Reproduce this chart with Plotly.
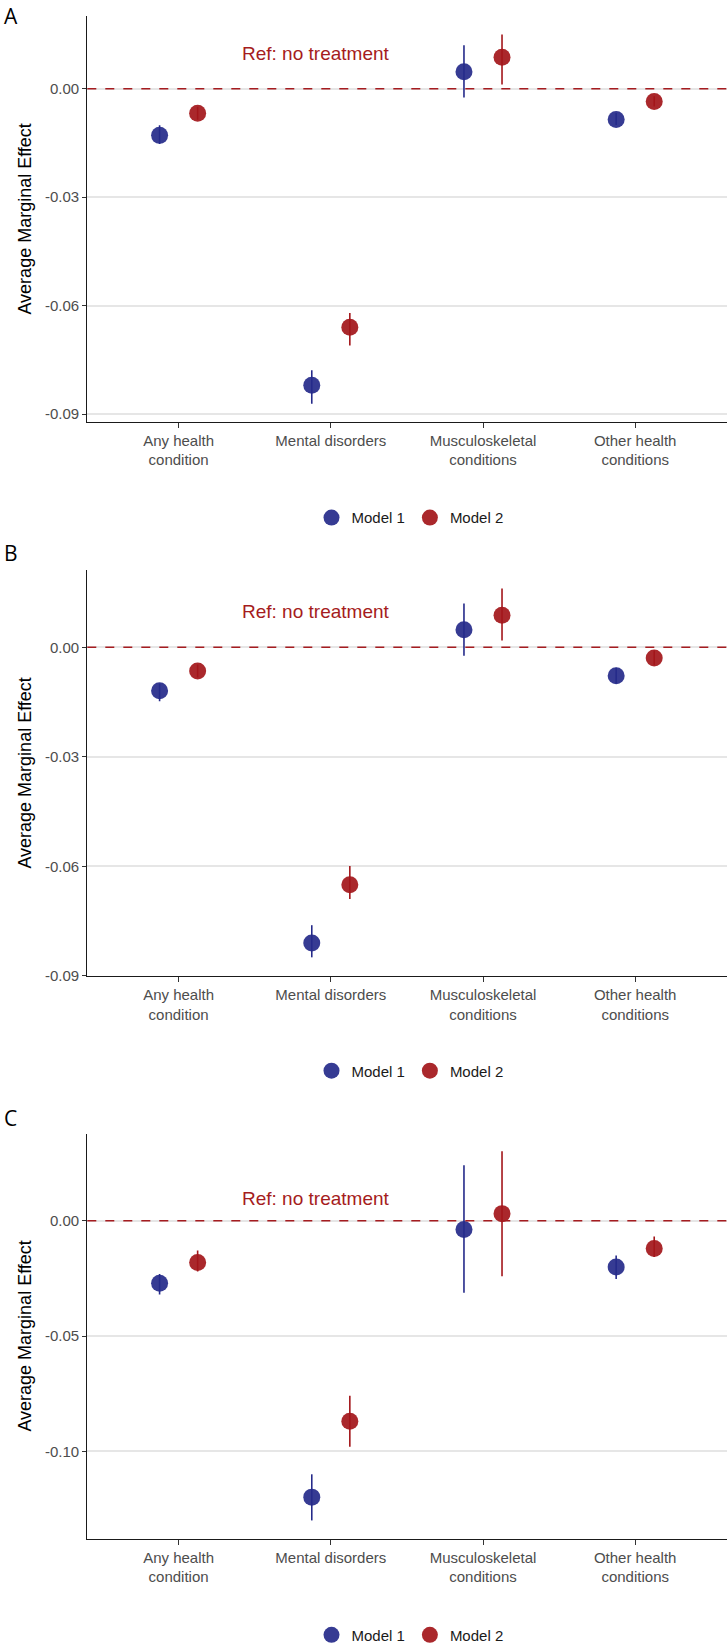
import plotly.graph_objects as go

# ---------------- data ----------------
categories = ["Any health<br>condition", "Mental disorders", "Musculoskeletal<br>conditions", "Other health<br>conditions"]
models = ["Model 1", "Model 2"]
panel_labels = ["A", "B", "C"]

# Panel A
a_m1 = [-0.0129, -0.0820, 0.0047, -0.0085]
a_m1_lo = [-0.0153, -0.0871, -0.0024, -0.0100]
a_m1_hi = [-0.0101, -0.0779, 0.0120, -0.0067]
a_m2 = [-0.0068, -0.0660, 0.0087, -0.0035]
a_m2_lo = [-0.0086, -0.0710, 0.0012, -0.0049]
a_m2_hi = [-0.0050, -0.0620, 0.0150, -0.0021]

# Panel B
b_m1 = [-0.0119, -0.0810, 0.0048, -0.0078]
b_m1_lo = [-0.0148, -0.0849, -0.0023, -0.0099]
b_m1_hi = [-0.0099, -0.0761, 0.0120, -0.0056]
b_m2 = [-0.0065, -0.0650, 0.0088, -0.0029]
b_m2_lo = [-0.0083, -0.0689, 0.0019, -0.0049]
b_m2_hi = [-0.0047, -0.0599, 0.0161, -0.0009]

# Panel C
c_m1 = [-0.0271, -0.1198, -0.0038, -0.0200]
c_m1_lo = [-0.0320, -0.1299, -0.0312, -0.0252]
c_m1_hi = [-0.0231, -0.1099, 0.0241, -0.0150]
c_m2 = [-0.0181, -0.0869, 0.0031, -0.0120]
c_m2_lo = [-0.0220, -0.0980, -0.0241, -0.0157]
c_m2_hi = [-0.0129, -0.0759, 0.0301, -0.0068]

y_ticks_a = [0.00, -0.03, -0.06, -0.09]
y_ticks_b = [0.00, -0.03, -0.06, -0.09]
y_ticks_c = [0.00, -0.05, -0.10]
y_ticktext_a = ["0.00", "-0.03", "-0.06", "-0.09"]
y_ticktext_b = ["0.00", "-0.03", "-0.06", "-0.09"]
y_ticktext_c = ["0.00", "-0.05", "-0.10"]
ref_label = "Ref: no treatment"
y_title = "Average Marginal Effect"

# ---------------- style ----------------
W, H = 728, 1652
BLUE = "#252A8A"
RED = "#A3161A"
REFRED = "#A51C20"
dodge = 0.125

panels = [
    dict(m=[(a_m1, a_m1_lo, a_m1_hi), (a_m2, a_m2_lo, a_m2_hi)], ticks=y_ticks_a, tt=y_ticktext_a,
         rng=[-0.0921, 0.0200], top=16.5, bot=423.5, leg_y=520, lab_top=0, ref_y=0.0097),
    dict(m=[(b_m1, b_m1_lo, b_m1_hi), (b_m2, b_m2_lo, b_m2_hi)], ticks=y_ticks_b, tt=y_ticktext_b,
         rng=[-0.0900, 0.0211], top=572.7, bot=980.1, leg_y=1075.5, lab_top=539, ref_y=0.0099),
    dict(m=[(c_m1, c_m1_lo, c_m1_hi), (c_m2, c_m2_lo, c_m2_hi)], ticks=y_ticks_c, tt=y_ticktext_c,
         rng=[-0.1378, 0.0378], top=1138.4, bot=1545.2, leg_y=1642, lab_top=1107, ref_y=0.0095),
]

fig = go.Figure()
xl, xr = 87.3 / W, 726.5 / W
colors = [BLUE, RED]
offsets = [-dodge, dodge]
cat_pos = list(range(1, len(categories) + 1))

annotations = []
shapes = []
layout_upd = {}
for i, p in enumerate(panels):
    n = "" if i == 0 else str(i + 1)
    xa, ya = "x" + n, "y" + n
    leg = "legend" + n
    for k, (vals, lo, hi) in enumerate(p["m"]):
        xs = [c + offsets[k] for c in cat_pos]
        fig.add_trace(go.Scatter(
            x=xs, y=vals, mode="markers", name=models[k],
            xaxis=xa, yaxis=ya, legend=leg, showlegend=True,
            marker=dict(size=17, color=colors[k], opacity=0.92, line=dict(width=0)),
            error_y=dict(type="data", symmetric=False,
                         array=[h - v for h, v in zip(hi, vals)],
                         arrayminus=[v - l for v, l in zip(vals, lo)],
                         color=colors[k], thickness=1.6, width=0),
        ))
    d0 = 1 - p["bot"] / H
    d1 = 1 - p["top"] / H
    layout_upd["xaxis" + n] = dict(
        domain=[xl, xr], anchor=ya, range=[0.4, 4.6],
        tickmode="array", tickvals=cat_pos, ticktext=categories,
        showline=True, linecolor="#1a1a1a", linewidth=1.3,
        ticks="outside", ticklen=5, tickwidth=1.2, tickcolor="#333333",
        showgrid=False, zeroline=False,
        tickfont=dict(family="Liberation Sans, Arial", size=15, color="#4D4D4D"),
    )
    layout_upd["yaxis" + n] = dict(
        domain=[d0, d1], anchor=xa, range=p["rng"],
        tickmode="array", tickvals=p["ticks"], ticktext=p["tt"],
        showline=True, linecolor="#1a1a1a", linewidth=1.3,
        ticks="outside", ticklen=4, tickwidth=1.2, tickcolor="#333333",
        showgrid=True, gridcolor="#E6E6E6", gridwidth=1.5, zeroline=False,
        tickfont=dict(family="Liberation Sans, Arial", size=15, color="#4D4D4D"),
    )
    layout_upd[leg] = dict(
        orientation="h", x=410 / W, xanchor="center", y=1 - p["leg_y"] / H, yanchor="middle",
        font=dict(family="Liberation Sans, Arial", size=15, color="#1a1a1a"),
        bgcolor="rgba(0,0,0,0)", itemsizing="trace", tracegroupgap=0,
    )
    shapes.append(dict(type="line", xref=xa + " domain", yref=ya, x0=0, x1=1, y0=0, y1=0,
                       line=dict(color=REFRED, width=1.6, dash="dash"), layer="above"))
    annotations.append(dict(text=ref_label, xref=xa, yref=ya, x=1.9, y=p["ref_y"],
                            showarrow=False, xanchor="center", yanchor="middle",
                            font=dict(family="Liberation Sans, Arial", size=19, color=REFRED)))
    annotations.append(dict(text=y_title, xref="paper", yref="paper", x=25.5 / W,
                            y=(d0 + d1) / 2, textangle=-90, showarrow=False,
                            xanchor="center", yanchor="middle",
                            font=dict(family="Liberation Sans, Arial", size=18, color="#000000")))
    annotations.append(dict(text=panel_labels[i], xref="paper", yref="paper", x=2 / W,
                            y=1 - p["lab_top"] / H, showarrow=False, xanchor="left", yanchor="top",
                            font=dict(family="Open Sans", size=21, color="#000000")))

fig.update_layout(
    width=W, height=H, margin=dict(l=0, r=0, t=0, b=0),
    paper_bgcolor="white", plot_bgcolor="white",
    shapes=shapes, annotations=annotations, **layout_upd,
)
fig.write_html("out.html")
